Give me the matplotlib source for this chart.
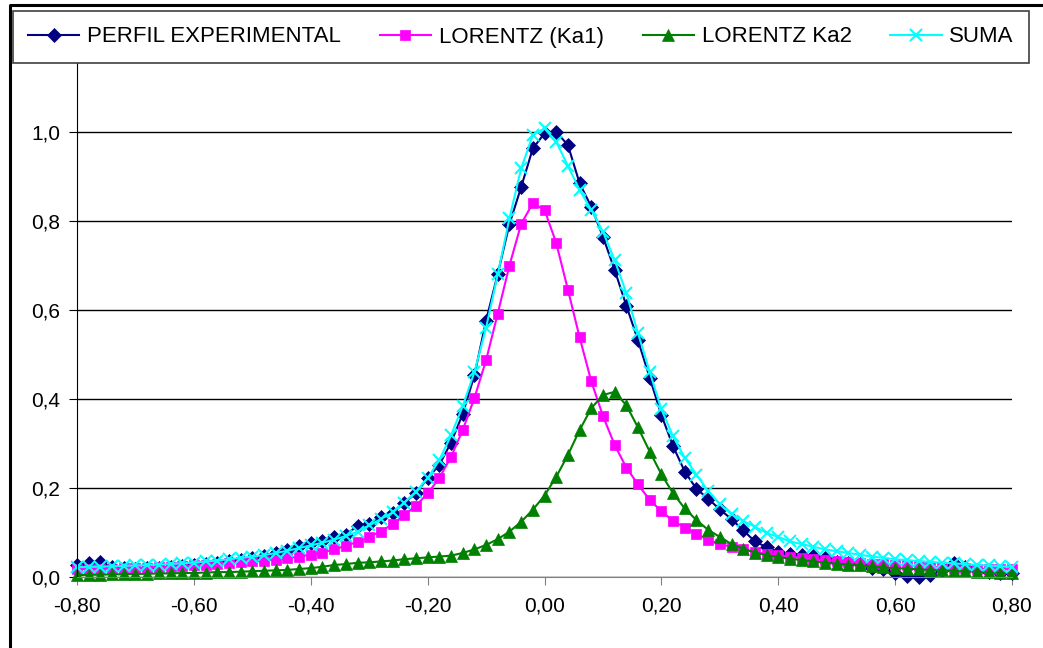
import numpy as np
import matplotlib.pyplot as plt
from matplotlib.ticker import FuncFormatter, MultipleLocator
from matplotlib.lines import Line2D

plt.rcParams['font.family'] = ['Liberation Sans', 'DejaVu Sans']

# x from -0.80 to 0.80, step 0.02 (81 points)
x = np.round(np.arange(-40, 41) * 0.02, 2)

perfil = [0.027, 0.032, 0.034, 0.022, 0.020, 0.019, 0.020, 0.021, 0.022, 0.024,
          0.026, 0.029, 0.031, 0.035, 0.039, 0.043, 0.047, 0.053, 0.061, 0.070,
          0.076, 0.080, 0.090, 0.095, 0.115, 0.119, 0.134, 0.143, 0.167, 0.188,
          0.222, 0.252, 0.302, 0.366, 0.453, 0.576, 0.681, 0.793, 0.876, 0.963,
          0.997, 1.000, 0.971, 0.885, 0.832, 0.765, 0.690, 0.610, 0.532, 0.448,
          0.364, 0.294, 0.237, 0.198, 0.176, 0.152, 0.130, 0.105, 0.080, 0.067,
          0.056, 0.052, 0.050, 0.047, 0.042, 0.034, 0.032, 0.030, 0.020, 0.018,
          0.010, 0.002, 0.000, 0.004, 0.015, 0.032, 0.022, 0.016, 0.012, 0.010,
          0.010]

ka1 = [0.017, 0.018, 0.018, 0.019, 0.020, 0.020, 0.021, 0.022, 0.023, 0.024,
       0.026, 0.028, 0.030, 0.031, 0.033, 0.035, 0.037, 0.039, 0.042, 0.046,
       0.050, 0.055, 0.062, 0.070, 0.079, 0.091, 0.102, 0.119, 0.139, 0.160,
       0.188, 0.222, 0.270, 0.330, 0.402, 0.487, 0.592, 0.700, 0.793, 0.840,
       0.825, 0.751, 0.646, 0.539, 0.440, 0.362, 0.297, 0.246, 0.208, 0.173,
       0.148, 0.126, 0.111, 0.097, 0.083, 0.075, 0.067, 0.062, 0.056, 0.052,
       0.049, 0.046, 0.043, 0.040, 0.038, 0.036, 0.034, 0.032, 0.030, 0.029,
       0.027, 0.026, 0.024, 0.023, 0.022, 0.021, 0.020, 0.019, 0.018, 0.018,
       0.017]

ka2 = [0.004, 0.005, 0.005, 0.006, 0.006, 0.007, 0.007, 0.008, 0.008, 0.009,
       0.009, 0.010, 0.011, 0.011, 0.012, 0.013, 0.014, 0.015, 0.016, 0.018,
       0.020, 0.023, 0.027, 0.029, 0.032, 0.033, 0.035, 0.037, 0.040, 0.042,
       0.044, 0.046, 0.048, 0.054, 0.062, 0.072, 0.085, 0.102, 0.124, 0.151,
       0.183, 0.225, 0.274, 0.330, 0.379, 0.409, 0.416, 0.386, 0.336, 0.282,
       0.231, 0.188, 0.154, 0.128, 0.106, 0.090, 0.074, 0.064, 0.055, 0.049,
       0.045, 0.041, 0.038, 0.035, 0.032, 0.030, 0.028, 0.026, 0.024, 0.022,
       0.020, 0.019, 0.017, 0.016, 0.015, 0.014, 0.013, 0.012, 0.011, 0.010,
       0.009]

suma = [0.022, 0.023, 0.023, 0.024, 0.025, 0.026, 0.027, 0.028, 0.029, 0.031,
        0.032, 0.035, 0.037, 0.040, 0.043, 0.046, 0.049, 0.054, 0.059, 0.065,
        0.071, 0.077, 0.084, 0.092, 0.102, 0.116, 0.130, 0.145, 0.167, 0.192,
        0.222, 0.263, 0.318, 0.384, 0.460, 0.560, 0.680, 0.806, 0.918, 0.993,
        1.008, 0.978, 0.924, 0.870, 0.825, 0.776, 0.712, 0.638, 0.548, 0.461,
        0.377, 0.316, 0.268, 0.230, 0.193, 0.164, 0.141, 0.126, 0.113, 0.099,
        0.090, 0.080, 0.074, 0.068, 0.062, 0.058, 0.054, 0.050, 0.046, 0.043,
        0.040, 0.038, 0.036, 0.034, 0.032, 0.031, 0.029, 0.027, 0.026, 0.024,
        0.023]

labels = ['PERFIL EXPERIMENTAL', 'LORENTZ (Ka1)', 'LORENTZ Ka2', 'SUMA']
colors = ['#000080', '#FF00FF', '#008000', '#00FFFF']
markers = ['D', 's', '^', 'x']
sizes = [7, 7, 8, 8.5]

W, H = 1043, 648
fig = plt.figure(figsize=(W / 100, H / 100), dpi=100)
ax = fig.add_axes([77 / W, 1 - 577 / H, (1012 - 77) / W, (577 - 43) / H])

for ser, lab, c, m, s in zip([perfil, ka1, ka2, suma], labels, colors, markers, sizes):
    ax.plot(x, ser, color=c, marker=m, markersize=s, lw=1.5, label=lab,
            markeredgewidth=1.5 if m == 'x' else 0.5, clip_on=False)

ax.set_xlim(-0.8, 0.8)
ax.set_ylim(0, 1.2)
ax.xaxis.set_major_locator(MultipleLocator(0.2))
ax.yaxis.set_major_locator(MultipleLocator(0.2))
ax.xaxis.set_major_formatter(FuncFormatter(lambda v, p: ('%.2f' % v).replace('.', ',').replace('-0,00', '0,00')))
ax.yaxis.set_major_formatter(FuncFormatter(lambda v, p: ('%.1f' % v).replace('.', ',')))
ax.grid(axis='y', color='black', lw=1)
ax.set_axisbelow(True)
for side in ['top', 'right']:
    ax.spines[side].set_visible(False)
ax.spines['left'].set_color('black')
ax.spines['bottom'].set_color('#808080')
ax.tick_params(axis='x', direction='out', length=6, color='#808080', labelsize=15, pad=8)
ax.tick_params(axis='y', direction='out', length=6, color='black', labelsize=15, pad=6)

handles = [Line2D([], [], color=c, marker=m, markersize=s, lw=1.5,
                  markeredgewidth=1.5 if m == 'x' else 0.5)
           for c, m, s in zip(colors, markers, sizes)]
leg = fig.legend(handles, labels, ncol=4, loc='center',
                 bbox_to_anchor=((12 + 1030) / 2 / W, 1 - 37 / H),
                 fontsize=16, frameon=True, fancybox=False,
                 handlelength=2.3, handletextpad=0.35, columnspacing=1.75,
                 borderaxespad=0, borderpad=0.7)
leg.get_frame().set_edgecolor('#404040')
leg.get_frame().set_linewidth(1.2)
leg.get_frame().set_alpha(1)

# chart-area border (top and left visible)
fig.add_artist(Line2D([10 / W, 10 / W, 1.0], [0.0, 1 - 5 / H, 1 - 5 / H],
                      color='black', lw=2.2, transform=fig.transFigure))

fig.savefig('out.png', dpi=100)
